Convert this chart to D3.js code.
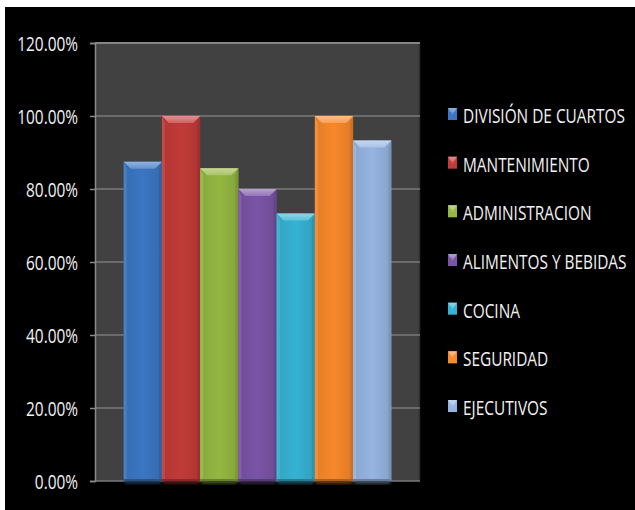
<!DOCTYPE html>
<html>
<head>
<meta charset="utf-8">
<script src="https://cdn.jsdelivr.net/npm/d3@7"></script>
<style>
  html, body { margin: 0; padding: 0; background: #ffffff; }
  svg { display: block; }
  text { font-family: "Open Sans", "Noto Sans", sans-serif; fill: #f2f2f2; }
</style>
</head>
<body>
<svg id="chart" width="635" height="510"></svg>
<script>
// Department scores
const categories = ["DIVISIÓN DE CUARTOS", "MANTENIMIENTO", "ADMINISTRACION", "ALIMENTOS Y BEBIDAS", "COCINA", "SEGURIDAD", "EJECUTIVOS"];
const values = [0.875, 1.0, 0.857, 0.80, 0.733, 1.0, 0.933];
const colors = ["#3b76c2", "#c13b38", "#93b742", "#7a54a6", "#36b2d2", "#f7882b", "#95b4e1"];
const yTicks = [0, 0.2, 0.4, 0.6, 0.8, 1.0, 1.2];

const svg = d3.select("#chart");
const W = 635, H = 510;
const plot = { left: 95, right: 420, top: 43, bottom: 481 };
const fontSize = 20;
const narrow = 0.77;   // horizontal condensing of the lettering

// dark canvas
svg.append("rect").attr("x", 5).attr("y", 7).attr("width", W - 5).attr("height", H - 7).attr("fill", "#000");

const y = d3.scaleLinear().domain([0, 1.2]).range([plot.bottom, plot.top]);

// one group of seven bars, gap width 150% split on both sides
const bw = (plot.right - plot.left) / (categories.length + 1.5);
const x = d3.scaleBand()
  .domain(categories)
  .range([plot.left + 0.75 * bw, plot.right - 0.75 * bw])
  .paddingInner(0).paddingOuter(0);

const defs = svg.append("defs");

// plot background
svg.append("rect")
  .attr("x", plot.left).attr("y", plot.top)
  .attr("width", plot.right - plot.left).attr("height", plot.bottom - plot.top)
  .attr("fill", "#414141");
svg.append("line")
  .attr("x1", plot.right - 0.5).attr("x2", plot.right - 0.5)
  .attr("y1", plot.top).attr("y2", plot.bottom)
  .attr("stroke", "#2e2e2e").attr("stroke-width", 1.5);

// gridlines
svg.append("g").selectAll("line").data(yTicks).join("line")
  .attr("x1", plot.left).attr("x2", plot.right)
  .attr("y1", d => y(d)).attr("y2", d => y(d))
  .attr("stroke", d => d === 1.2 ? "#858585" : "#7a7a7a")
  .attr("stroke-width", d => d === 1.2 ? 2 : 1.5);

// y axis
const yAxis = d3.axisLeft(y).tickValues(yTicks).tickFormat(d3.format(".2%")).tickSize(5).tickPadding(12);
const gy = svg.append("g").attr("transform", `translate(${plot.left},0)`).call(yAxis);
gy.select(".domain").attr("stroke", "#8a8a8a").attr("stroke-width", 1.5);
gy.selectAll(".tick line").attr("stroke", "#8a8a8a").attr("stroke-width", 1.5);
gy.selectAll(".tick text")
  .attr("font-size", fontSize).attr("fill", "#f2f2f2").attr("dy", "0.36em")
  .style("font-family", '"Open Sans", "Noto Sans", sans-serif')
  .attr("x", 0)
  .attr("transform", `translate(-17,0) scale(${narrow},1)`);

// bevelled bars
function shade(c, k) { return k >= 0 ? d3.interpolateRgb(c, "#ffffff")(k) : d3.interpolateRgb(c, "#000000")(-k); }

categories.forEach((c, i) => {
  const g1 = defs.append("linearGradient").attr("id", "body" + i).attr("x1", 0).attr("x2", 1).attr("y1", 0).attr("y2", 0);
  g1.append("stop").attr("offset", 0).attr("stop-color", shade(colors[i], -0.08));
  g1.append("stop").attr("offset", 0.5).attr("stop-color", colors[i]);
  g1.append("stop").attr("offset", 1).attr("stop-color", shade(colors[i], -0.1));
  const g2 = defs.append("linearGradient").attr("id", "cap" + i).attr("x1", 0).attr("x2", 0).attr("y1", 0).attr("y2", 1);
  g2.append("stop").attr("offset", 0).attr("stop-color", shade(colors[i], 0.45));
  g2.append("stop").attr("offset", 1).attr("stop-color", shade(colors[i], 0.2));
});

const shadowF = defs.append("filter").attr("id", "soft").attr("x", "-20%").attr("y", "-20%").attr("width", "140%").attr("height", "140%");
shadowF.append("feGaussianBlur").attr("stdDeviation", 1.5);

const bars = svg.append("g").selectAll("g").data(categories).join("g");
const bev = 7;

bars.append("rect")
  .attr("x", d => x(d) + 1).attr("y", plot.bottom - 2)
  .attr("width", x.bandwidth() - 2).attr("height", 5)
  .attr("fill", (d, i) => shade(colors[i], -0.6)).attr("filter", "url(#soft)");

bars.append("rect")
  .attr("x", d => x(d)).attr("y", (d, i) => y(values[i]))
  .attr("width", x.bandwidth()).attr("height", (d, i) => plot.bottom - y(values[i]))
  .attr("fill", (d, i) => `url(#body${i})`);

// left and right facets
bars.append("path").attr("d", (d, i) => {
  const x0 = x(d), t = y(values[i]), b = plot.bottom;
  return `M${x0},${t}L${x0 + 3},${t + bev}L${x0 + 3},${b - 2}L${x0},${b}Z`;
}).attr("fill", (d, i) => shade(colors[i], 0.12)).attr("opacity", 0.7);
bars.append("path").attr("d", (d, i) => {
  const x1 = x(d) + x.bandwidth(), t = y(values[i]), b = plot.bottom;
  return `M${x1},${t}L${x1 - 3},${t + bev}L${x1 - 3},${b - 2}L${x1},${b}Z`;
}).attr("fill", (d, i) => shade(colors[i], -0.2)).attr("opacity", 0.7);

// top bevel
bars.append("path").attr("d", (d, i) => {
  const x0 = x(d), x1 = x0 + x.bandwidth(), t = y(values[i]);
  return `M${x0},${t}L${x1},${t}L${x1 - bev},${t + bev}L${x0 + bev},${t + bev}Z`;
}).attr("fill", (d, i) => `url(#cap${i})`);

// bottom edge
bars.append("rect")
  .attr("x", d => x(d)).attr("y", plot.bottom - 2)
  .attr("width", x.bandwidth()).attr("height", 2)
  .attr("fill", (d, i) => shade(colors[i], -0.3));

// legend
const legendTop = 123, legendStep = 48.67;
const lg = svg.append("g").selectAll("g").data(categories).join("g")
  .attr("transform", (d, i) => `translate(448,${legendTop + i * legendStep})`);
lg.append("rect").attr("x", 0).attr("y", -15).attr("width", 9).attr("height", 12)
  .attr("fill", (d, i) => colors[i]);
lg.append("path").attr("d", "M0,-15L9,-15L6,-11L3,-11Z").attr("fill", (d, i) => shade(colors[i], 0.4));
lg.append("path").attr("d", "M1,-13L8,-13L4.5,-8Z").attr("fill", (d, i) => shade(colors[i], 0.3)).attr("opacity", 0.6);
lg.append("text")
  .attr("transform", `translate(15,0) scale(${narrow},1)`)
  .attr("font-size", fontSize).text(d => d);
</script>
</body>
</html>
